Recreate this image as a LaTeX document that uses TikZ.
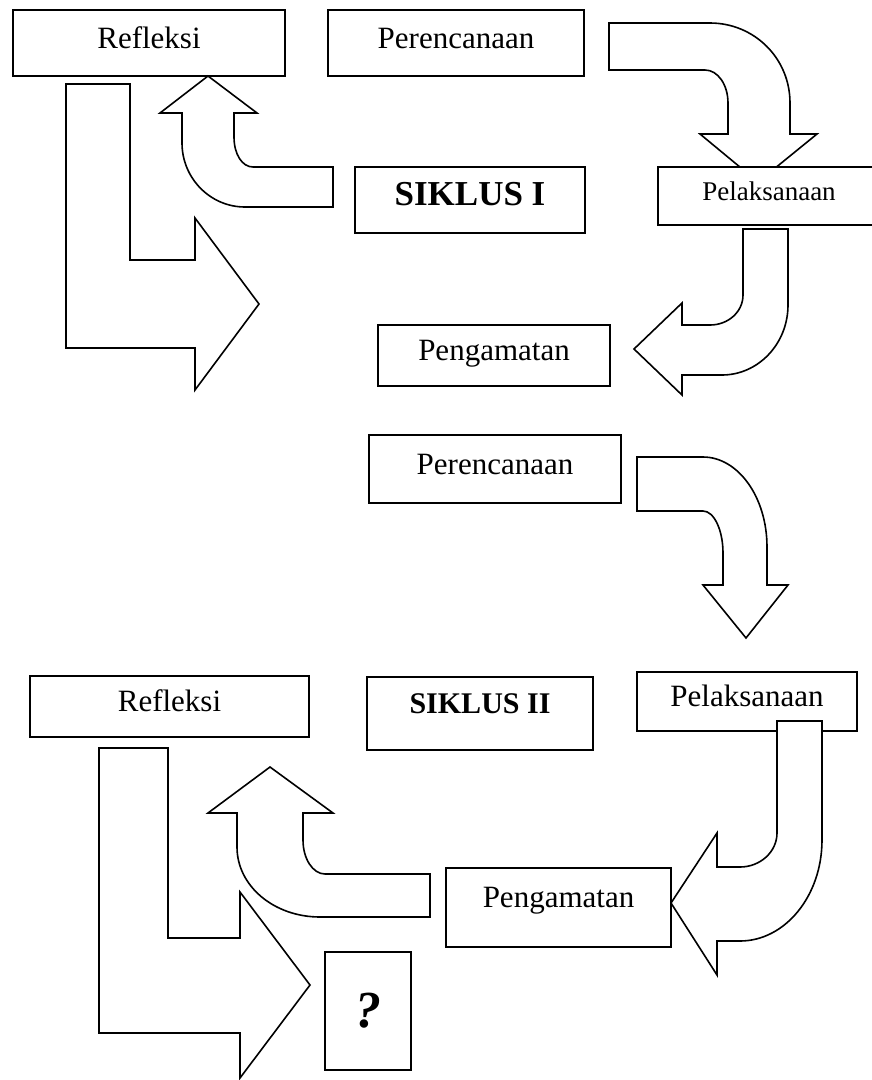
\documentclass[tikz,border=0pt]{standalone}
\usepackage{fontspec}
\setmainfont{Liberation Serif}
\newcommand{\boxfont}{\fontsize{31}{36}\selectfont}

\begin{document}
\begin{tikzpicture}[x=1pt, y=-1pt,
  box/.style = {draw, fill=white, line width=1.8pt, inner sep=0pt,
                text height=21pt, text depth=11pt, font=\boxfont},
  blockarrow/.style = {draw, fill=white, line width=1.6pt, line join=miter}]

\useasboundingbox (0,0) rectangle (872,1080);

% SIKLUS I
\draw[blockarrow] (609,23) -- (710,23) .. controls (754,23) and (790,58) .. (790,103)
  -- (790,134) -- (817,134) -- (758,182) -- (700,134) -- (728,134) -- (728,103)
  .. controls (728,85) and (718,70) .. (705,70) -- (609,70) -- cycle;

\node[box, minimum width=272, minimum height=66] (R1) at (149,43) {Refleksi};
\node[box, minimum width=256, minimum height=66] (P1) at (456,43) {Perencanaan};
\node[box, minimum width=230, minimum height=66, font=\fontsize{35}{40}\selectfont\bfseries] (S1) at (470,200) {SIKLUS I};
\node[box, minimum width=222, minimum height=58, font=\fontsize{27}{32}\selectfont, text height=18pt, text depth=10pt] (L1) at (769,196) {Pelaksanaan};
\node[box, minimum width=232, minimum height=61] (G1) at (494,355.5) {Pengamatan};

\draw[blockarrow] (743,229) -- (743,295) .. controls (743,312) and (728,325) .. (710,325)
  -- (682,325) -- (682,303) -- (634,349) -- (682,395) -- (682,375) -- (722,375)
  .. controls (758,375) and (788,344) .. (788,305) -- (788,229) -- cycle;

\draw[blockarrow] (333,167) -- (253,167) .. controls (242,167) and (234,154) .. (234,137)
  -- (234,113) -- (257,113) -- (208,76) -- (160,113) -- (182,113) -- (182,143)
  .. controls (182,178) and (210,207) .. (245,207) -- (333,207) -- cycle;

\draw[blockarrow] (66,84) -- (130,84) -- (130,260) -- (195,260) -- (195,218) -- (259,304)
  -- (195,390) -- (195,348) -- (66,348) -- cycle;

% SIKLUS II
\node[box, minimum width=252, minimum height=68] (P2) at (495,469) {Perencanaan};

\draw[blockarrow] (637,457) -- (703,457) .. controls (738,457) and (767,497) .. (767,547)
  -- (767,585) -- (788,585) -- (746,638) -- (703,585) -- (723,585) -- (723,553)
  .. controls (723,530) and (714,511) .. (703,511) -- (637,511) -- cycle;

\node[box, minimum width=279, minimum height=61] (R2) at (169.5,706.5) {Refleksi};
\node[box, minimum width=226, minimum height=73, text depth=21pt, font=\fontsize{30}{36}\selectfont\bfseries] (S2) at (480,713.5) {SIKLUS II};
\node[box, minimum width=220, minimum height=59] (L2) at (747,701.5) {Pelaksanaan};
\node[box, minimum width=225, minimum height=79, text depth=21pt] (G2) at (558.5,907.5) {Pengamatan};
\node[box, minimum width=86, minimum height=118, text depth=4pt, text height=36pt, font=\fontsize{52}{58}\selectfont\bfseries\itshape] (Q) at (368,1011) {?};

\draw[blockarrow] (777,721) -- (777,833) .. controls (777,852) and (760,867) .. (740,867)
  -- (717,867) -- (717,833) -- (671,903) -- (717,975) -- (717,941) -- (740,941)
  .. controls (785,941) and (822,896) .. (822,840) -- (822,721) -- cycle;

\draw[blockarrow] (430,874) -- (325,874) .. controls (313,874) and (303,859) .. (303,840)
  -- (303,813) -- (333,813) -- (270,767) -- (208,813) -- (237,813) -- (237,847)
  .. controls (237,886) and (274,917) .. (320,917) -- (430,917) -- cycle;

\draw[blockarrow] (99,748) -- (168,748) -- (168,938) -- (240,938) -- (240,892) -- (310,985)
  -- (240,1078) -- (240,1033) -- (99,1033) -- cycle;

\end{tikzpicture}
\end{document}
